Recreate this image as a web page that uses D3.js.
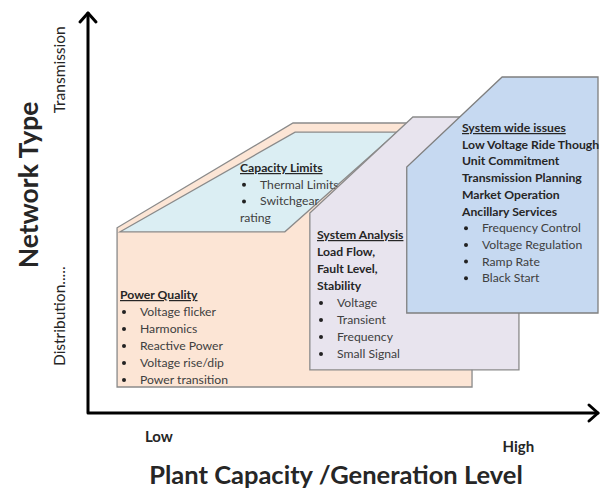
<!DOCTYPE html>
<html>
<head>
<meta charset="utf-8">
<script src="https://cdn.jsdelivr.net/npm/d3@7"></script>
<style>
  body { margin: 0; background: #fff; }
  svg { display: block; font-family: Lato, 'Open Sans', sans-serif; }
</style>
</head>
<body>
<svg id="chart" width="603" height="491"></svg>
<script>
// axis categories (both axes run 0..100 in diagram units)
const capacityLabels = ['Low', 'High'];
const capacityValues = [13.9, 84.4];
const networkLabels = ['Distribution.....', 'Transmission'];
const networkValues = [24.2, 85.8];

// panel outlines, [capacity, network] in diagram units
const powerQualityShape = [[5.7, 6.5], [5.7, 46.3], [40.2, 72.5], [67, 72.5], [75.3, 60], [75.3, 6.5]];
const capacityLimitsShape = [[6.3, 45.3], [40.6, 70.2], [60.6, 70.2], [38.6, 45.3]];
const systemAnalysisShape = [[43.5, 10.8], [43.5, 50], [63.7, 74], [84.5, 74], [84.5, 10.8]];
const systemWideShape = [[62.5, 25], [62.5, 61.5], [81.2, 84], [100, 84], [100, 25]];

// panel texts
const capacityLimitsLines = [
  { t: 'Capacity Limits', kind: 'head' },
  { t: 'Thermal Limits', kind: 'bullet' },
  { t: 'Switchgear', kind: 'bullet' },
  { t: 'rating', kind: 'plain' },
];
const powerQualityLines = [
  { t: 'Power Quality', kind: 'head' },
  { t: 'Voltage flicker', kind: 'bullet' },
  { t: 'Harmonics', kind: 'bullet' },
  { t: 'Reactive Power', kind: 'bullet' },
  { t: 'Voltage rise/dip', kind: 'bullet' },
  { t: 'Power transition', kind: 'bullet' },
];
const systemAnalysisLines = [
  { t: 'System Analysis', kind: 'head' },
  { t: 'Load Flow,', kind: 'bold' },
  { t: 'Fault Level,', kind: 'bold' },
  { t: 'Stability', kind: 'bold' },
  { t: 'Voltage', kind: 'bullet' },
  { t: 'Transient', kind: 'bullet' },
  { t: 'Frequency', kind: 'bullet' },
  { t: 'Small Signal', kind: 'bullet' },
];
const systemWideLines = [
  { t: 'System wide issues', kind: 'head' },
  { t: 'Low Voltage Ride Though', kind: 'bold' },
  { t: 'Unit Commitment', kind: 'bold' },
  { t: 'Transmission Planning', kind: 'bold' },
  { t: 'Market Operation', kind: 'bold' },
  { t: 'Ancillary Services', kind: 'bold' },
  { t: 'Frequency Control', kind: 'bullet' },
  { t: 'Voltage Regulation', kind: 'bullet' },
  { t: 'Ramp Rate', kind: 'bullet' },
  { t: 'Black Start', kind: 'bullet' },
];

const svg = d3.select('#chart');
const origin = { x: 88, y: 413 };
const x = d3.scaleLinear().domain([0, 100]).range([origin.x, 598]);
const y = d3.scaleLinear().domain([0, 100]).range([origin.y, 13]);
const line = d3.line().x(d => x(d[0])).y(d => y(d[1]));

function panel(points, fill, stroke) {
  svg.append('path')
    .attr('d', line(points) + 'Z')
    .attr('fill', fill)
    .attr('stroke', stroke)
    .attr('stroke-width', 1.3);
}

// text block: first baseline at (cx, cy) in diagram units, fixed line step in px
function textBlock(lines, cx, cy, step) {
  const g = svg.append('g')
    .attr('transform', `translate(${x(cx)}, ${y(cy)})`)
    .attr('font-size', 12.2);
  lines.forEach((l, i) => {
    const ty = i * step;
    if (l.kind === 'bullet') {
      g.append('circle')
        .attr('cx', 4).attr('cy', ty - 4).attr('r', 2)
        .attr('fill', '#222');
    }
    g.append('text')
      .attr('x', l.kind === 'bullet' ? 20 : 0)
      .attr('y', ty)
      .attr('fill', l.kind === 'bullet' || l.kind === 'plain' ? '#404040' : '#262626')
      .attr('font-weight', l.kind === 'head' || l.kind === 'bold' ? 'bold' : 'normal')
      .attr('text-decoration', l.kind === 'head' ? 'underline' : null)
      .text(l.t);
  });
}

panel(powerQualityShape, '#fce5d5', '#8a8a8a');
panel(capacityLimitsShape, '#dbeef3', '#8a8a8a');
textBlock(capacityLimitsLines, (240 - 88) / 5.1, (413 - 172) / 4, 16.7);
textBlock(powerQualityLines, (120 - 88) / 5.1, (413 - 299) / 4, 17);
panel(systemAnalysisShape, '#e8e4ee', '#8a8a8a');
textBlock(systemAnalysisLines, (317 - 88) / 5.1, (413 - 239) / 4, 17);
panel(systemWideShape, '#c6d9f1', '#7f7f7f');
textBlock(systemWideLines, (462 - 88) / 5.1, (413 - 132) / 4, 16.7);

// axes with arrow heads
const axis = svg.append('g')
  .attr('stroke', '#000')
  .attr('stroke-width', 3)
  .attr('fill', 'none')
  .attr('stroke-linecap', 'round')
  .attr('stroke-linejoin', 'round');
axis.append('path').attr('d', `M${x(0)},${y(100)} V${y(0)} H${x(100)}`);
axis.append('path').attr('d', `M${x(0) - 8},${y(100) + 9} L${x(0)},${y(100)} L${x(0) + 8},${y(100) + 9}`);
axis.append('path').attr('d', `M${x(100) - 9},${y(0) - 8} L${x(100)},${y(0)} L${x(100) - 9},${y(0) + 8}`);

// category labels
svg.selectAll('.cap-label')
  .data(capacityLabels)
  .enter().append('text')
  .attr('class', 'cap-label')
  .attr('x', (d, i) => x(capacityValues[i]))
  .attr('y', (d, i) => i === 0 ? 442 : 452)
  .attr('text-anchor', 'middle')
  .attr('font-size', 15)
  .attr('font-weight', 'bold')
  .attr('fill', '#262626')
  .text(d => d);

svg.selectAll('.net-label')
  .data(networkLabels)
  .enter().append('text')
  .attr('class', 'net-label')
  .attr('transform', (d, i) => `translate(65, ${y(networkValues[i])}) rotate(-90)`)
  .attr('text-anchor', 'middle')
  .attr('font-size', 15.5)
  .attr('fill', '#262626')
  .text(d => d);

// axis titles
svg.append('text')
  .attr('x', 336).attr('y', 484)
  .attr('text-anchor', 'middle')
  .attr('font-size', 25.5)
  .attr('font-weight', 'bold')
  .attr('fill', '#262626')
  .text('Plant Capacity /Generation Level');

svg.append('text')
  .attr('transform', 'translate(38, 185) rotate(-90)')
  .attr('text-anchor', 'middle')
  .attr('font-size', 26.5)
  .attr('font-weight', 'bold')
  .attr('fill', '#262626')
  .text('Network Type');
</script>
</body>
</html>
